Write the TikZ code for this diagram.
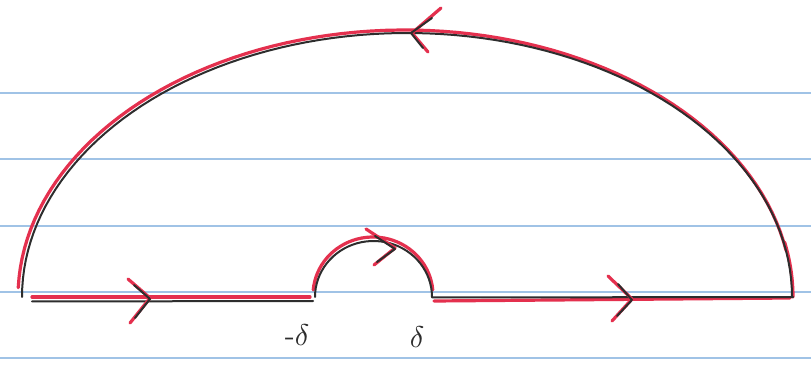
\documentclass[tikz,border=0pt]{standalone}
\usepackage{graphicx}
\usepackage{amsmath}
\definecolor{penred}{RGB}{228,48,78}
\definecolor{pencil}{RGB}{45,45,45}
\definecolor{ruleblue}{RGB}{160,195,230}
\tikzset{
  redstroke/.style={draw=penred, line width=3.2pt, line cap=round, line join=round},
  blackstroke/.style={draw=pencil, line width=2pt, line cap=round, line join=round},
  ruling/.style={draw=ruleblue, line width=1.1pt},
  lbl/.style={text=pencil, inner sep=0pt}
}
\begin{document}
\begin{tikzpicture}[x=1pt,y=-1pt]
\useasboundingbox (0,0) rectangle (811,371);
\fill[white] (0,0) rectangle (811,371);
% ruled paper
\foreach \yy in {93,159,226,292,358} \draw[ruling] (0,\yy) -- (811,\yy);
% large arc
\draw[redstroke] plot[domain=10:178, samples=80] ({405+387*cos(\x)}, {297-267*sin(\x)});
\draw[redstroke] plot[domain=0:12, samples=10] ({409+384*cos(\x)}, {297-264*sin(\x)});
\draw[blackstroke] plot[domain=0:180, samples=90] ({407+385*cos(\x)}, {297-264*sin(\x)});
% baseline segments
\draw[redstroke] (32,297) -- (310,297);
\draw[blackstroke] (32,301.5) -- (313,301);
\draw[redstroke] (434,301) -- (790,298);
\draw[blackstroke] (432,297.5) -- (793,297);
% small arc
\draw[redstroke] plot[domain=5:175, samples=40] ({373+60*cos(\x)}, {295-58*sin(\x)});
\draw[blackstroke] plot[domain=0:180, samples=40] ({373.5+58.5*cos(\x)}, {297-56*sin(\x)});
% arrow chevrons
\draw[redstroke] (128,279) -- (150,298) -- (130,323);
\draw[blackstroke] (134,285) -- (150,299) -- (135,318);
\draw[redstroke] (608,276) -- (632,299) -- (612,321);
\draw[blackstroke] (618,284) -- (632,300) -- (617,316);
\draw[redstroke] (366,229) -- (395,248) -- (374,265);
\draw[blackstroke] (375,236) -- (395,249) -- (377,262);
\draw[redstroke] (441,8) -- (412,33) -- (428,52);
\draw[blackstroke] (432,18) -- (411,33) -- (423,48);
% labels
\node[lbl] (mdelta) at (297,335) {\scalebox{3}{$\text{-}\delta$}};
\node[lbl] (pdelta) at (417,337) {\scalebox{3}{$\delta$}};
\end{tikzpicture}
\end{document}
